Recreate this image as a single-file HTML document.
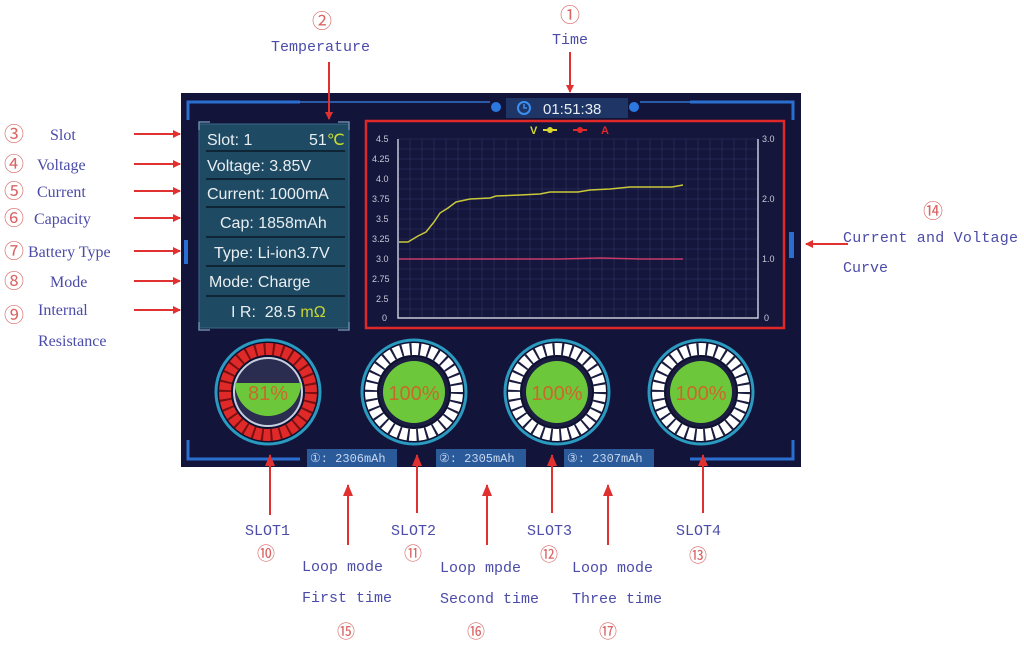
<!DOCTYPE html>
<html><head><meta charset="utf-8"><style>
html,body{margin:0;padding:0;background:#fff;width:1024px;height:648px;overflow:hidden}
svg{display:block}
.lb{font-family:"Liberation Serif",serif;font-size:16px;fill:#4b4ba8}
.mo{font-family:"Liberation Mono",monospace;font-size:15px;fill:#4b4ba8}
.cn{font-family:"Liberation Sans","Noto Sans CJK SC",sans-serif;font-size:20px;fill:#d96565}
.it{font-family:"Liberation Sans",sans-serif;font-size:16px;fill:#e8eef2}
.ax{font-family:"Liberation Sans",sans-serif;font-size:9px;fill:#c8c8d8}
</style></head><body>
<svg width="1024" height="648" viewBox="0 0 1024 648" xmlns="http://www.w3.org/2000/svg">
<defs>
<marker id="ar" markerWidth="8" markerHeight="8" refX="7" refY="4" orient="auto" markerUnits="userSpaceOnUse"><path d="M0,0 L8,4 L0,8 Z" fill="#e03030"/></marker>
<marker id="ar2" markerWidth="12" markerHeight="10" refX="11" refY="5" orient="auto" markerUnits="userSpaceOnUse"><path d="M0,0 L12,5 L0,10 Z" fill="#e03030"/></marker>
</defs>
<rect x="181" y="93" width="620" height="374" fill="#12143a"/>
<path d="M188,120 V102 H300 M690,102 H793 V120 M188,440 V459 H300 M690,459 H793 V440" stroke="#2a6fd0" stroke-width="3" fill="none"/>
<path d="M300,102 H490 M640,102 H690" stroke="#2a5aa8" stroke-width="2"/>
<rect x="184" y="240" width="4" height="24" fill="#2a6fd0"/>
<rect x="789" y="232" width="5" height="26" fill="#2a6fd0"/>
<circle cx="496" cy="107" r="5" fill="#2a78e0"/><circle cx="634" cy="107" r="5" fill="#2a78e0"/>
<rect x="506" y="98" width="122" height="20" fill="#1e3566"/>
<circle cx="524" cy="108" r="6" fill="none" stroke="#3a8ff0" stroke-width="2"/><path d="M524,104 V108 H527" stroke="#3a8ff0" stroke-width="1.5" fill="none"/>
<text x="543" y="114" class="it" style="font-size:15px">01:51:38</text>
<rect x="199" y="124" width="150" height="204" fill="#1f4a63" stroke="#3a6a8a"/>
<path d="M199,130 V122 H210 M338,122 H349 V130 M199,322 V330 H210 M338,330 H349 V322" stroke="#6a8aa8" stroke-width="1.5" fill="none"/>
<g stroke="#0f2535" stroke-width="2">
<line x1="206" y1="151" x2="345" y2="151"/><line x1="206" y1="179" x2="345" y2="179"/><line x1="206" y1="207" x2="345" y2="207"/><line x1="206" y1="237" x2="345" y2="237"/><line x1="206" y1="266" x2="345" y2="266"/><line x1="206" y1="296" x2="345" y2="296"/></g>
<text x="207" y="145" class="it">Slot: 1</text><text x="309" y="145" class="it">51<tspan fill="#c8d830">℃</tspan></text>
<text x="207" y="171" class="it">Voltage: 3.85V</text>
<text x="207" y="199" class="it">Current: 1000mA</text>
<text x="220" y="228" class="it">Cap: 1858mAh</text>
<text x="214" y="258" class="it">Type: Li-ion3.7V</text>
<text x="209" y="287" class="it">Mode: Charge</text>
<text x="231" y="317" class="it">I R:&#160;&#160;28.5 <tspan fill="#c8d830">mΩ</tspan></text>
<rect x="366" y="121" width="418" height="207" fill="#15163c" stroke="#e02828" stroke-width="2.5"/>
<g stroke="#2a2d5c" stroke-width="0.8">
<path d="M398,139 H758 M398,149 H758 M398,159 H758 M398,169 H758 M398,179 H758 M398,189 H758 M398,199 H758 M398,209 H758 M398,219 H758 M398,229 H758 M398,239 H758 M398,249 H758 M398,259 H758 M398,269 H758 M398,279 H758 M398,289 H758 M398,299 H758 M398,309 H758"/>
<path d="M410,139V318M422,139V318M434,139V318M446,139V318M458,139V318M470,139V318M482,139V318M494,139V318M506,139V318M518,139V318M530,139V318M542,139V318M554,139V318M566,139V318M578,139V318M590,139V318M602,139V318M614,139V318M626,139V318M638,139V318M650,139V318M662,139V318M674,139V318M686,139V318M698,139V318M710,139V318M722,139V318M734,139V318M746,139V318"/></g>
<path d="M398,139 V318 H758 V139" stroke="#c8c8d8" stroke-width="1.5" fill="none"/>
<g class="ax"><text x="376" y="142">4.5</text><text x="372" y="162">4.25</text><text x="376" y="182">4.0</text><text x="372" y="202">3.75</text><text x="376" y="222">3.5</text><text x="372" y="242">3.25</text><text x="376" y="262">3.0</text><text x="372" y="282">2.75</text><text x="376" y="302">2.5</text><text x="382" y="321">0</text>
<text x="762" y="142">3.0</text><text x="762" y="202">2.0</text><text x="762" y="262">1.0</text><text x="764" y="321">0</text></g>
<text x="530" y="134" style="font:bold 11px 'Liberation Sans',sans-serif;fill:#d8d830">V</text>
<path d="M543,130 H557" stroke="#d8d830" stroke-width="2"/><circle cx="550" cy="130" r="3" fill="#d8d830"/>
<path d="M573,130 H587" stroke="#e02828" stroke-width="2"/><circle cx="580" cy="130" r="3" fill="#e02828"/>
<text x="601" y="134" style="font:bold 11px 'Liberation Sans',sans-serif;fill:#e02828">A</text>
<path d="M399,242 L408,242 L418,236 L426,232 L434,222 L440,213 L448,208 L456,202 L470,199 L490,198 L496,196 L520,195 L540,194 L550,192 L578,192 L590,190 L610,189 L630,187 L660,187 L672,187 L683,185" stroke="#c8c83a" stroke-width="1.5" fill="none"/>
<path d="M399,259 L560,259 L600,258 L640,259 L683,259" stroke="#c83a6a" stroke-width="1.5" fill="none"/>
<g>
<circle cx="268" cy="392" r="52" fill="#0e1030" stroke="#2a9ac0" stroke-width="3"/>
<circle cx="268" cy="392" r="43" fill="none" stroke="#e02a2a" stroke-width="12"/>
<circle cx="268" cy="392" r="43" fill="none" stroke="#7a1010" stroke-width="12" stroke-dasharray="2 7"/>
<circle cx="268" cy="392" r="34" fill="#2a2c50" stroke="#c8d0e0" stroke-width="2"/>
<path d="M235,383 A33,33 0 1 0 301,383 Z" fill="#6cc83a"/>
<text x="268" y="400" text-anchor="middle" style="font:20px 'Liberation Sans',sans-serif;fill:#c86a2a">81%</text>
</g>
<g>
<circle cx="414" cy="392" r="52" fill="#0e1030" stroke="#2a9ac0" stroke-width="3"/>
<circle cx="414" cy="392" r="43" fill="none" stroke="#ffffff" stroke-width="12"/>
<circle cx="414" cy="392" r="43" fill="none" stroke="#1a1c40" stroke-width="12" stroke-dasharray="2 7"/>
<circle cx="414" cy="392" r="35" fill="#1a1c40"/><circle cx="414" cy="392" r="31" fill="#6cc83a"/>
<text x="414" y="400" text-anchor="middle" style="font:20px 'Liberation Sans',sans-serif;fill:#c86a2a">100%</text></g>
<g>
<circle cx="557" cy="392" r="52" fill="#0e1030" stroke="#2a9ac0" stroke-width="3"/>
<circle cx="557" cy="392" r="43" fill="none" stroke="#ffffff" stroke-width="12"/>
<circle cx="557" cy="392" r="43" fill="none" stroke="#1a1c40" stroke-width="12" stroke-dasharray="2 7"/>
<circle cx="557" cy="392" r="35" fill="#1a1c40"/><circle cx="557" cy="392" r="31" fill="#6cc83a"/>
<text x="557" y="400" text-anchor="middle" style="font:20px 'Liberation Sans',sans-serif;fill:#c86a2a">100%</text></g>
<g>
<circle cx="701" cy="392" r="52" fill="#0e1030" stroke="#2a9ac0" stroke-width="3"/>
<circle cx="701" cy="392" r="43" fill="none" stroke="#ffffff" stroke-width="12"/>
<circle cx="701" cy="392" r="43" fill="none" stroke="#1a1c40" stroke-width="12" stroke-dasharray="2 7"/>
<circle cx="701" cy="392" r="35" fill="#1a1c40"/><circle cx="701" cy="392" r="31" fill="#6cc83a"/>
<text x="701" y="400" text-anchor="middle" style="font:20px 'Liberation Sans',sans-serif;fill:#c86a2a">100%</text></g>
<rect x="307" y="449" width="90" height="18" fill="#2a5a9a"/>
<rect x="436" y="449" width="90" height="18" fill="#2a5a9a"/>
<rect x="564" y="449" width="90" height="18" fill="#2a5a9a"/>
<g style="font:12px 'Liberation Mono',monospace;fill:#c8d8f0">
<text x="310" y="462">①: 2306mAh</text><text x="439" y="462">②: 2305mAh</text><text x="567" y="462">③: 2307mAh</text></g>
<g stroke="#e03030" stroke-width="2" fill="none">
<line x1="134" y1="134" x2="180" y2="134" marker-end="url(#ar)"/>
<line x1="134" y1="164" x2="180" y2="164" marker-end="url(#ar)"/>
<line x1="134" y1="191" x2="180" y2="191" marker-end="url(#ar)"/>
<line x1="134" y1="218" x2="180" y2="218" marker-end="url(#ar)"/>
<line x1="134" y1="251" x2="180" y2="251" marker-end="url(#ar)"/>
<line x1="134" y1="281" x2="180" y2="281" marker-end="url(#ar)"/>
<line x1="134" y1="310" x2="180" y2="310" marker-end="url(#ar)"/>
<line x1="329" y1="62" x2="329" y2="119" marker-end="url(#ar)"/>
<line x1="570" y1="52" x2="570" y2="92" marker-end="url(#ar)"/>
<line x1="848" y1="244" x2="806" y2="244" marker-end="url(#ar)"/>
<line x1="270" y1="515" x2="270" y2="455" marker-end="url(#ar2)"/>
<line x1="417" y1="513" x2="417" y2="455" marker-end="url(#ar2)"/>
<line x1="552" y1="513" x2="552" y2="455" marker-end="url(#ar2)"/>
<line x1="703" y1="513" x2="703" y2="455" marker-end="url(#ar2)"/>
<line x1="348" y1="545" x2="348" y2="485" marker-end="url(#ar2)"/>
<line x1="487" y1="545" x2="487" y2="485" marker-end="url(#ar2)"/>
<line x1="608" y1="545" x2="608" y2="485" marker-end="url(#ar2)"/>
</g>
<text x="4" y="141" class="cn">③</text><text x="50" y="140" class="lb">Slot</text>
<text x="4" y="171" class="cn">④</text><text x="37" y="170" class="lb">Voltage</text>
<text x="4" y="198" class="cn">⑤</text><text x="37" y="197" class="lb">Current</text>
<text x="4" y="225" class="cn">⑥</text><text x="34" y="224" class="lb">Capacity</text>
<text x="4" y="258" class="cn">⑦</text><text x="28" y="257" class="lb">Battery Type</text>
<text x="4" y="288" class="cn">⑧</text><text x="50" y="287" class="lb">Mode</text>
<text x="4" y="322" class="cn">⑨</text><text x="38" y="315" class="lb">Internal</text>
<text x="38" y="346" class="lb">Resistance</text>
<text x="312" y="28" class="cn">②</text><text x="271" y="51" class="mo">Temperature</text>
<text x="560" y="22" class="cn">①</text><text x="552" y="44" class="mo">Time</text>
<text x="923" y="218" class="cn">⑭</text>
<text x="843" y="242" class="mo" textLength="175">Current and Voltage</text>
<text x="843" y="272" class="mo">Curve</text>
<text x="245" y="535" class="mo">SLOT1</text><text x="257" y="560" class="cn" style="font-size:18px">⑩</text>
<text x="391" y="535" class="mo">SLOT2</text><text x="404" y="560" class="cn" style="font-size:18px">⑪</text>
<text x="527" y="535" class="mo">SLOT3</text><text x="540" y="561" class="cn" style="font-size:18px">⑫</text>
<text x="676" y="535" class="mo">SLOT4</text><text x="689" y="562" class="cn" style="font-size:18px">⑬</text>
<text x="302" y="571" class="mo">Loop mode</text><text x="302" y="602" class="mo">First time</text><text x="337" y="638" class="cn" style="font-size:18px">⑮</text>
<text x="440" y="572" class="mo">Loop mpde</text><text x="440" y="603" class="mo">Second time</text><text x="467" y="638" class="cn" style="font-size:18px">⑯</text>
<text x="572" y="572" class="mo">Loop mode</text><text x="572" y="603" class="mo">Three time</text><text x="599" y="638" class="cn" style="font-size:18px">⑰</text>
</svg>
</body></html>
